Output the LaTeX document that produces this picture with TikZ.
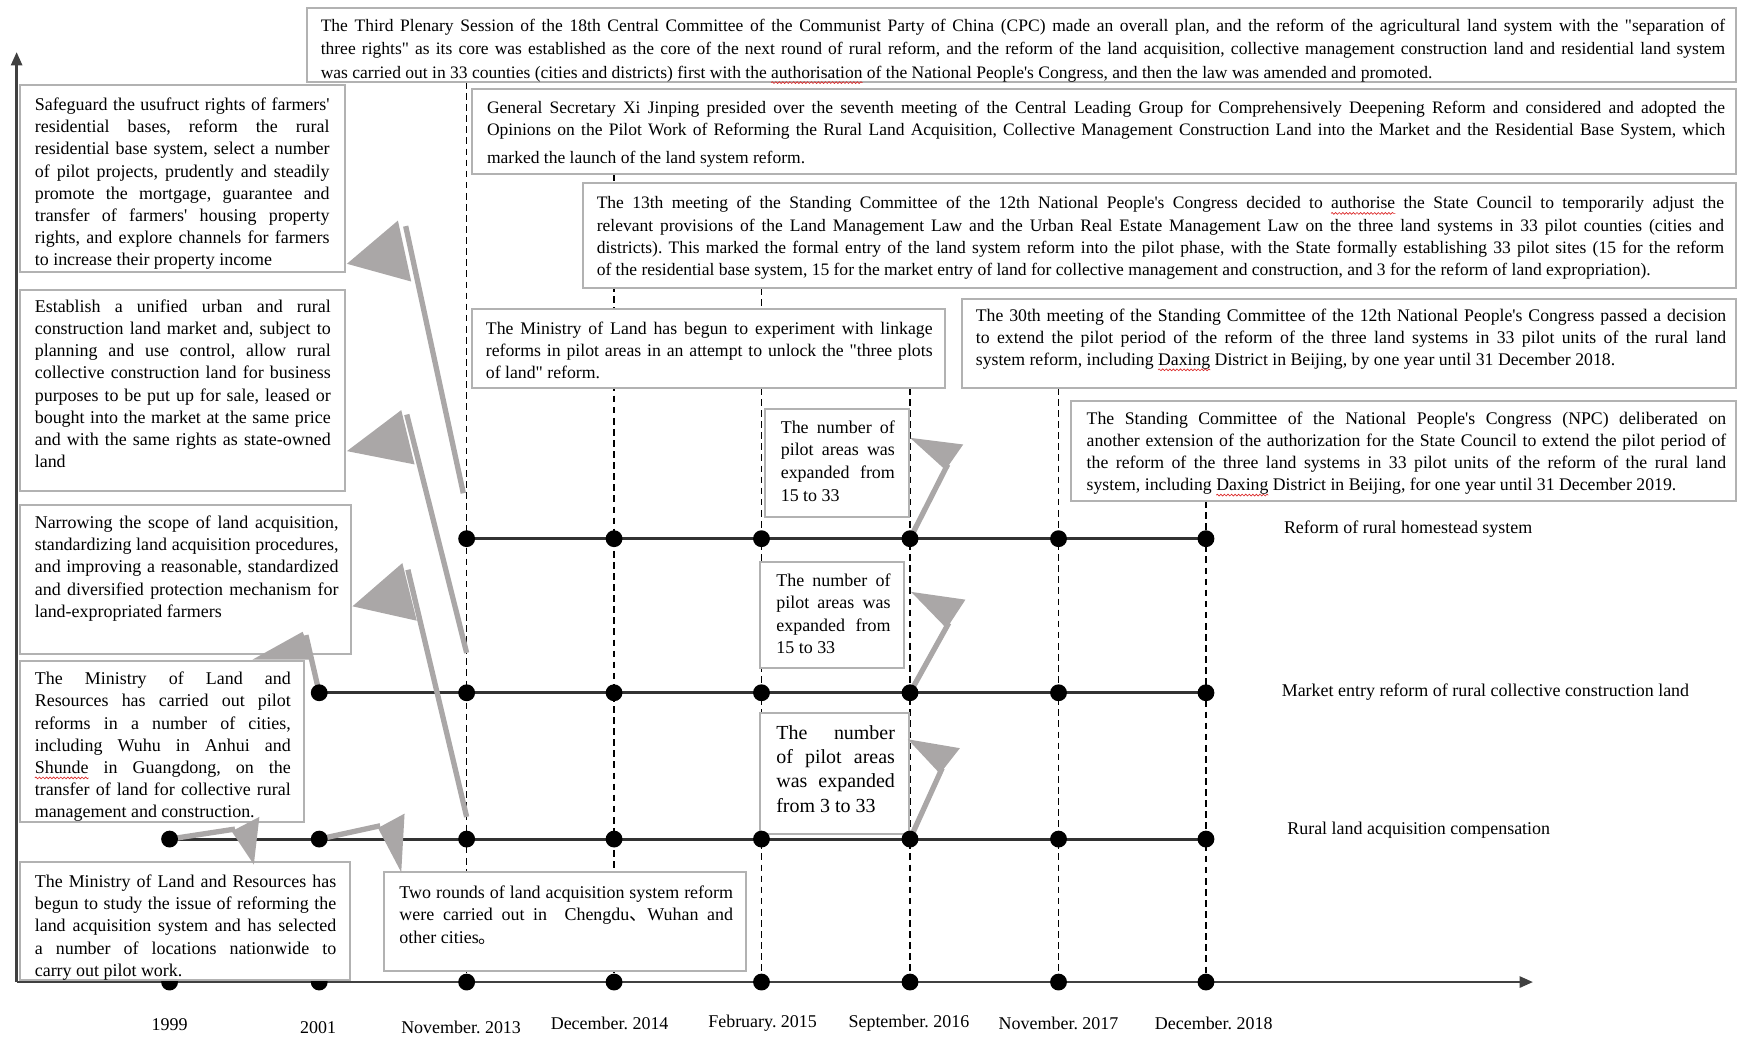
\documentclass[tikz,border=0pt]{standalone}
\usepackage{fontspec}
\setmainfont{Liberation Serif}[Ligatures=TeXOff]
\newfontfamily\cjkfont{Noto Sans CJK SC}
\usetikzlibrary{arrows.meta,fit,decorations.pathmorphing}
\pgfdeclarelayer{bg}
\pgfsetlayers{bg,main}
\definecolor{boxgray}{RGB}{178,178,178}
\definecolor{callgray}{RGB}{170,167,167}
\definecolor{axisgray}{RGB}{64,64,64}
\definecolor{linegray}{RGB}{50,50,50}
\definecolor{squigred}{RGB}{220,40,40}
\newcommand\fsz[2]{\fontsize{#1}{#2}\selectfont}
\newsavebox\sqbox
\newlength\sqwd
\newcommand\squig[1]{\sbox\sqbox{#1}\setlength\sqwd{\wd\sqbox}\leavevmode\rlap{\tikz[overlay]\draw[squigred,line width=0.3pt,decorate,decoration={snake,amplitude=0.4pt,segment length=1.6pt}] (0pt,-2pt) -- (\sqwd,-2pt);}\usebox\sqbox}
\tikzset{
  evbox/.style={draw=boxgray,line width=0.9pt,fill=white,inner sep=0pt},
  evtext/.style={anchor=north west,inner sep=0pt,align=justify},
  dotn/.style={circle,fill=black,inner sep=0pt,minimum size=7.6pt},
  tline/.style={draw=linegray,line width=1.4pt},
  guide/.style={draw=black,line width=0.55pt,dash pattern=on 3pt off 2pt},
  callfill/.style={fill=callgray,draw=none},
  callline/.style={draw=callgray,line width=2.4pt},
  axisln/.style={draw=axisgray,line width=1.1pt,-{Triangle[length=6pt,width=5pt]}},
  lbl/.style={inner sep=0pt,font=\fsz{8.1}{10}},
}
\frenchspacing
\begin{document}
\begin{tikzpicture}[x=0.5pt,y=-0.5pt]
\useasboundingbox (0,0) rectangle (1568,935);

% ---------- axes and column coordinates
\coordinate (origin) at (15,886);
\coordinate (xend) at (1383,886);
\coordinate (yend) at (15,47);
\coordinate (g3) at (421,74);
\coordinate (g4) at (554,157);
\coordinate (g5) at (687,260);
\coordinate (g6) at (821,350);
\coordinate (g7) at (955,350);
\coordinate (g8) at (1088,452);

% axis dots
\foreach \c/\x in {1/153,2/288,3/421,4/554,5/687,6/821,7/955,8/1088}
  \node[dotn] (a\c) at (\x,886) {};

\begin{pgfonlayer}{bg}
  \draw[axisln] (origin) -- (xend);
  \draw[axisln] (origin) -- (yend);
  \foreach \c in {3,...,8} \draw[guide] (g\c) -- (a\c);
\end{pgfonlayer}

% ---------- boxes
\node[evbox,fit={(277,7) (1566,74)}] (bTop) {};
\node[evbox,fit={(426,80) (1566,157)}] (bXi) {};
\node[evbox,fit={(526,165) (1566,260)}] (bThirteen) {};
\node[evbox,fit={(426,279) (853,350)}] (bMin) {};
\node[evbox,fit={(868,270) (1566,350)}] (bThirty) {};
\node[evbox,fit={(966,362) (1566,452)}] (bNPC) {};
\node[evbox,fit={(18,77) (311,245)}] (bSafe) {};
\node[evbox,fit={(18,262) (311,443)}] (bEst) {};
\node[evbox,fit={(18,456) (317,590)}] (bNarrow) {};
\node[evbox,fit={(18,596) (274,742)}] (bMinFour) {};
\node[evbox,fit={(18,778) (316,884)}] (bMinFive) {};
\node[evbox,fit={(346,787) (673,876)}] (bTwo) {};
\node[evbox,fit={(690,369) (820,466)}] (bSmA) {};
\node[evbox,fit={(686,507) (816,603)}] (bSmB) {};
\node[evbox,fit={(686,643) (820,752)}] (bSmC) {};

% ---------- row dots
\foreach \c/\x in {3/421,4/554,5/687,6/821,7/955,8/1088}
  \coordinate (p1\c) at (\x,486);
\foreach \c/\x in {2/288,3/421,4/554,5/687,6/821,7/955,8/1088}
  \coordinate (p2\c) at (\x,625);
\foreach \c/\x in {1/153,2/288,3/421,4/554,5/687,6/821,7/955,8/1088}
  \coordinate (p3\c) at (\x,757);
\begin{pgfonlayer}{bg}
  \draw[tline] (p13) -- (p18);
  \draw[tline] (p22) -- (p28);
  \draw[tline] (p31) -- (p38);
\end{pgfonlayer}

% ---------- callouts
\coordinate (ea) at (418,445);
\coordinate (eb) at (421,589);
\coordinate (ec) at (421,737);
\fill[callfill] (313,238) -- (359,199) -- (371,254) -- cycle;
\draw[callline] (366,204) -- (ea);
\fill[callfill] (313,407) -- (362,370) -- (374,419) -- cycle;
\draw[callline] (367,374) -- (eb);
\fill[callfill] (318,547) -- (363,508) -- (376,560) -- cycle;
\draw[callline] (368,514) -- (ec);
\fill[callfill] (228,595) -- (273,570) -- (283,595) -- cycle;
\draw[callline] (276,573) -- (p22);
\draw[callline] (p31) -- (212,748);
\fill[callfill] (209,750) -- (234,737) -- (229,780) -- cycle;
\draw[callline] (p32) -- (343,745);
\fill[callfill] (341,747) -- (365,734) -- (362,787) -- cycle;
\fill[callfill] (821,395) -- (869,401) -- (853,424) -- cycle;
\draw[callline] (855,419) -- (p16);
\fill[callfill] (822,534) -- (871,541) -- (854,567) -- cycle;
\draw[callline] (856,562) -- (p26);
\fill[callfill] (819,667) -- (866,675) -- (848,698) -- cycle;
\draw[callline] (850,693) -- (p36);

\foreach \r/\c in {1/3,1/4,1/5,1/6,1/7,1/8,2/2,2/3,2/4,2/5,2/6,2/7,2/8,3/1,3/2,3/3,3/4,3/5,3/6,3/7,3/8}
  \node[dotn] (d\r\c) at (p\r\c) {};

% ---------- texts
\node[evtext,text width=633.5pt,font=\fsz{7.9}{10.5}] (tTop) at (289,17) {The Third Plenary Session of the 18th Central Committee of the Communist Party of China (CPC) made an overall plan, and the reform of the agricultural land system with the "separation of\linebreak three rights" as its core was established as the core of the next round of rural reform, and the reform of the land acquisition, collective management construction land and residential land system\linebreak was carried out in 33 counties (cities and districts) first with the \squig{authorisation} of the National People's Congress, and then the law was amended and promoted.};

\node[evtext,text width=558.5pt,font=\fsz{7.9}{10}] (tXi) at (439,91) {General Secretary Xi Jinping presided over the seventh meeting of the Central Leading Group for Comprehensively Deepening Reform and considered and adopted the\linebreak Opinions on the Pilot Work of Reforming the Rural Land Acquisition, Collective Management Construction Land into the Market and the Residential Base System, which\vspace{2.5pt}\linebreak marked the launch of the land system reform.};

\node[evtext,text width=508.5pt,font=\fsz{7.9}{10}] (tThirteen) at (538,177) {The 13th meeting of the Standing Committee of the 12th National People's Congress decided to \squig{authorise} the State Council to temporarily adjust the\linebreak relevant provisions of the Land Management Law and the Urban Real Estate Management Law on the three land systems in 33 pilot counties (cities and\linebreak districts). This marked the formal entry of the land system reform into the pilot phase, with the State formally establishing 33 pilot sites (15 for the reform\linebreak of the residential base system, 15 for the market entry of land for collective management and construction, and 3 for the reform of land expropriation).};

\node[evtext,text width=201.5pt,font=\fsz{8}{10}] (tMin) at (438,290) {The Ministry of Land has begun to experiment with linkage\linebreak reforms in pilot areas in an attempt to unlock the "three plots\linebreak of land" reform.};

\node[evtext,text width=338.5pt,font=\fsz{8}{10}] (tThirty) at (880,278) {The 30th meeting of the Standing Committee of the 12th National People's Congress passed a decision\linebreak to extend the pilot period of the reform of the three land systems in 33 pilot units of the rural land\linebreak system reform, including \squig{Daxing} District in Beijing, by one year until 31 December 2018.};

\node[evtext,text width=288.5pt,font=\fsz{8}{10}] (tNPC) at (980,371) {The Standing Committee of the National People's Congress (NPC) deliberated on\linebreak another extension of the authorization for the State Council to extend the pilot period of\linebreak the reform of the three land systems in 33 pilot units of the reform of the rural land\linebreak system, including \squig{Daxing} District in Beijing, for one year until 31 December 2019.};

\node[evtext,text width=133pt,font=\fsz{8.1}{10}] (tSafe) at (31,88) {Safeguard the usufruct rights of farmers'\linebreak residential bases, reform the rural\linebreak residential base system, select a number\linebreak of pilot projects, prudently and steadily\linebreak promote the mortgage, guarantee and\linebreak transfer of farmers' housing property\linebreak rights, and explore channels for farmers\linebreak to increase their property income};

\node[evtext,text width=133.5pt,font=\fsz{8.1}{10}] (tEst) at (31,270) {Establish a unified urban and rural\linebreak construction land market and, subject to\linebreak planning and use control, allow rural\linebreak collective construction land for business\linebreak purposes to be put up for sale, leased or\linebreak bought into the market at the same price\linebreak and with the same rights as state-owned\linebreak land};

\node[evtext,text width=137pt,font=\fsz{8.1}{10}] (tNarrow) at (31,465) {Narrowing the scope of land acquisition,\linebreak standardizing land acquisition procedures,\linebreak and improving a reasonable, standardized\linebreak and diversified protection mechanism for\linebreak land-expropriated farmers};

\node[evtext,text width=115.5pt,font=\fsz{8.1}{10}] (tMinFour) at (31,606) {The Ministry of Land and\linebreak Resources has carried out pilot\linebreak reforms in a number of cities,\linebreak including Wuhu in Anhui and\linebreak \squig{Shunde} in Guangdong, on the\linebreak transfer of land for collective rural\linebreak management and construction.};

\node[evtext,text width=136pt,font=\fsz{8.1}{10}] (tMinFive) at (31,789) {The Ministry of Land and Resources has\linebreak begun to study the issue of reforming the\linebreak land acquisition system and has selected\linebreak a number of locations nationwide to\linebreak carry out pilot work.};

\node[evtext,text width=150.5pt,font=\fsz{8.1}{10}] (tTwo) at (360,799) {Two rounds of land acquisition system reform\linebreak were carried out in~ Chengdu{\cjkfont 、}Wuhan and\linebreak other cities{\cjkfont 。}};

\node[evtext,text width=51.5pt,font=\fsz{8.1}{10.2}] (tSmA) at (704,379) {The number of\linebreak pilot areas was\linebreak expanded from\linebreak 15 to 33};
\node[evtext,text width=51.5pt,font=\fsz{8.1}{10.2}] (tSmB) at (700,517) {The number of\linebreak pilot areas was\linebreak expanded from\linebreak 15 to 33};
\node[evtext,text width=53.5pt,font=\fsz{9}{11}] (tSmC) at (700,654) {The number\linebreak of pilot areas\linebreak was expanded\linebreak from 3 to 33};

% ---------- row labels
\node[lbl,anchor=west] (lRow1) at (1158,477) {Reform of rural homestead system};
\node[lbl,anchor=west] (lRow2) at (1156,624) {Market entry reform of rural collective construction land};
\node[lbl,anchor=west] (lRow3) at (1161,749) {Rural land acquisition compensation};

% ---------- date labels
\node[lbl] (y1) at (153,924) {1999};
\node[lbl] (y2) at (287,927) {2001};
\node[lbl] (y3) at (416,927) {November. 2013};
\node[lbl] (y4) at (550,923) {December. 2014};
\node[lbl] (y5) at (688,923) {February. 2015};
\node[lbl] (y6) at (820,923) {September. 2016};
\node[lbl] (y7) at (955,923) {November. 2017};
\node[lbl] (y8) at (1095,923) {December. 2018};
\end{tikzpicture}
\end{document}
